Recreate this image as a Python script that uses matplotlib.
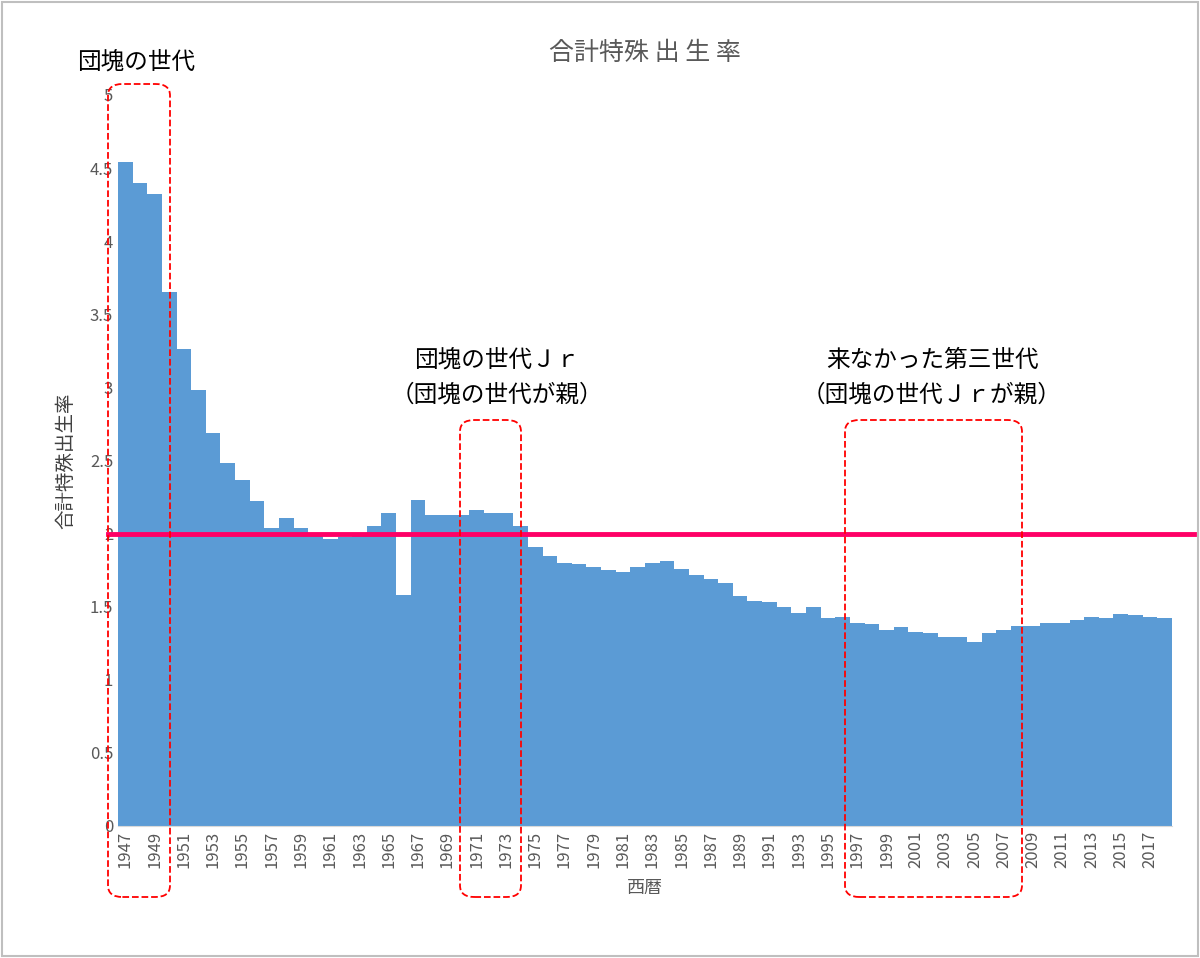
import matplotlib
matplotlib.use("Agg")
import matplotlib.pyplot as plt
from matplotlib.patches import FancyBboxPatch, Rectangle
import numpy as np

plt.rcParams['font.family'] = ['Noto Sans CJK JP', 'DejaVu Sans']

years = list(range(1947, 2019))
tfr = [4.54, 4.40, 4.32, 3.65, 3.26, 2.98, 2.69, 2.48, 2.37, 2.22,
       2.04, 2.11, 2.04, 2.00, 1.96, 1.98, 2.00, 2.05, 2.14, 1.58,
       2.23, 2.13, 2.13, 2.13, 2.16, 2.14, 2.14, 2.05, 1.91, 1.85,
       1.80, 1.79, 1.77, 1.75, 1.74, 1.77, 1.80, 1.81, 1.76, 1.72,
       1.69, 1.66, 1.57, 1.54, 1.53, 1.50, 1.46, 1.50, 1.42, 1.43,
       1.39, 1.38, 1.34, 1.36, 1.33, 1.32, 1.29, 1.29, 1.26, 1.32,
       1.34, 1.37, 1.37, 1.39, 1.39, 1.41, 1.43, 1.42, 1.45, 1.44,
       1.43, 1.42]
replacement = 2.0

W, H = 1200, 958
fig = plt.figure(figsize=(12, 9.58), dpi=100)
ax = fig.add_axes([118/W, 1-826/H, (1172-118)/W, (826-95)/H])

ax.bar(years, tfr, width=1.0, color='#5b9bd5')
ax.plot([years[0]-1.2, years[-1]+2.0], [replacement, replacement],
        color='#ff0066', lw=3.5, clip_on=False, zorder=5)

ax.set_xlim(years[0]-0.5, years[-1]+0.5)
ax.set_ylim(0, 5)
ax.set_yticks(np.arange(0, 5.01, 0.5))
ax.set_yticklabels(['0', '0.5', '1', '1.5', '2', '2.5', '3', '3.5', '4', '4.5', '5'])
ax.set_xticks(years[::2])
ax.set_xticklabels([str(y) for y in years[::2]], rotation=90)
ax.tick_params(colors='#595959', labelsize=12, length=0)
for s in ax.spines.values():
    s.set_visible(False)
ax.spines['bottom'].set_visible(True)
ax.spines['bottom'].set_color('#d9d9d9')

ax.set_title('合計特殊 出 生 率', fontsize=18, color='#595959', pad=25)
ax.set_xlabel('西暦', fontsize=13, color='#595959', labelpad=8)
ax.set_ylabel('合計特殊出生率', fontsize=14, color='#404040', labelpad=10)

# figure border
fig.patches.append(Rectangle((2/W, 2/H), 1-4/W, 1-4/H, transform=fig.transFigure,
                             fill=False, ec='#bfbfbf', lw=1.5))

def box(x0, y0, x1, y1):
    fig.patches.append(FancyBboxPatch((x0/W, 1-y1/H), (x1-x0)/W, (y1-y0)/H,
                                      boxstyle='round,pad=0,rounding_size=0.012',
                                      transform=fig.transFigure, fill=False,
                                      ec='red', ls='--', lw=1.3, zorder=10))

box(108, 84, 170, 897)
box(460, 420, 521, 897)
box(845, 420, 1022, 897)

fig.text(136/W, 1-62/H, '団塊の世代', fontsize=17, ha='center', va='center')
fig.text(497/W, 1-360/H, '団塊の世代Ｊｒ', fontsize=17, ha='center', va='center')
fig.text(497/W, 1-395/H, '（団塊の世代が親）', fontsize=17, ha='center', va='center')
fig.text(932/W, 1-360/H, '来なかった第三世代', fontsize=17, ha='center', va='center')
fig.text(932/W, 1-395/H, '（団塊の世代Ｊｒが親）', fontsize=17, ha='center', va='center')

fig.savefig('out.png', dpi=100)
